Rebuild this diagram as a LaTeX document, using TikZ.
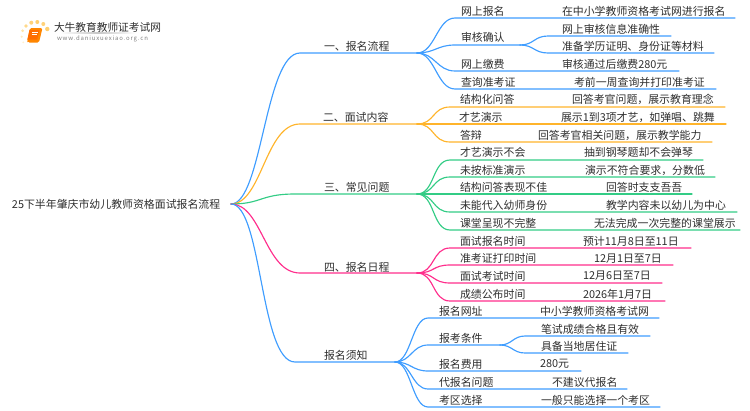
\documentclass[tikz,border=0pt]{standalone}
\usepackage{fontspec}
\usetikzlibrary{calc}
\setmainfont{Noto Sans CJK SC}
\definecolor{cblue}{HTML}{3F9DFF}
\definecolor{corange}{HTML}{FFB42B}
\definecolor{cgreen}{HTML}{33CC85}
\definecolor{cpink}{HTML}{FF2E8C}
\definecolor{ctext}{HTML}{2E2E2E}
\tikzset{
  txt/.style={inner sep=0pt,outer sep=0pt,anchor=west,text=ctext,font=\fontsize{10.9}{12}\selectfont},
  link/.style={line width=1.15pt,line cap=round}
}
\newcommand{\branch}[5]{% name colour parent kneex y ; line runs on to (#1j)
  \coordinate (#1) at (#4,#5);
  \draw[link,#2] (#3) .. controls +(31,0) and ($(#1)+(-35,0)$) .. (#1) -- (#1j);
}
\newcommand{\twig}[7]{% name colour parent kneex endx y dx
  \coordinate (#1k) at (#4,#6);
  \coordinate (#1e) at (#5,#6);
  \draw[link,#2] (#3) .. controls +(#7,0) and ($(#1k)+(-#7,0)$) .. (#1k) -- (#1e);
}
\begin{document}
\begin{tikzpicture}[x=1pt,y=-1pt]
\useasboundingbox (0,0) rectangle (750,410);
% logo
\foreach \n/\a/\b/\r/\c in {a/26/26/1.8/FFD98A,b/31.3/22.7/2/FFD27A,c/37.3/22/2/FFCF70,d/43.3/24/2/FFD27A,e/47.3/29/2.2/FFCF70,f/22.7/30.7/1.5/FFE4A8,g/21.7/36.7/1.2/FFEBC0,h/23.3/42.3/1/FFF0D0}{
  \definecolor{dc\n}{HTML}{\c}
  \fill[dc\n] (\a,\b) circle (\r);
}
\fill[rounded corners=1.5pt,fill=orange!95!yellow] (30,28) -- (42.5,28) -- (39,42.5) -- (28,42.5) -- (27,41) -- cycle;
\fill[fill=orange!85!red] (29.5,30) -- (39.5,30) -- (37.2,39.5) -- (27.5,39.5) -- cycle;
\draw[white,line width=.5pt] (32,32) -- (37.5,32) (31.5,34) -- (37,34);
\node[txt,font=\fontsize{10.7}{12}\selectfont] (logoa) at (54,27) {大牛教育教师证考试网};
\shade[left color=white,right color=white,middle color=black!22] (60,32.7) rectangle (136,33.7);
\node[txt,text=black!50,font=\fontsize{6}{7}\selectfont] (logob) at (57,39) {\addfontfeatures{LetterSpace=14}www.daniuxuexiao.org.cn};

% root
\node[txt] (root) at (12,204.5) {25下半年肇庆市幼儿教师资格面试报名流程};
\coordinate (r) at (231,204);

% junctions
\coordinate (b1j) at (417,53);
\coordinate (b2j) at (417,124);
\coordinate (b3j) at (417,194);
\coordinate (b4j) at (417,273);
\coordinate (b5j) at (395,362);

% branches
\branch{b1}{cblue}{r}{300}{53}
\branch{b2}{corange}{r}{300}{124}
\branch{b3}{cgreen}{r}{295}{194}
\branch{b4}{cpink}{r}{300}{273}
\branch{b5}{cblue}{r}{295}{362}
\node[txt] (t1) at (324,46) {一、报名流程};
\node[txt] (t2) at (323,117) {二、面试内容};
\node[txt] (t3) at (324,187) {三、常见问题};
\node[txt] (t4) at (324,267) {四、报名日程};
\node[txt] (t5) at (324,355) {报名须知};

% branch 1
\twig{a1}{cblue}{b1j}{455}{735}{18}{18}
\twig{a2}{cblue}{b1j}{455}{520}{45}{18}
\twig{a3}{cblue}{b1j}{455}{679}{71}{18}
\twig{a4}{cblue}{b1j}{455}{716}{89}{18}
\coordinate (a2j) at (520,45);
\twig{a2x}{cblue}{a2j}{548}{671}{36}{14}
\twig{a2y}{cblue}{a2j}{548}{714}{53}{14}
\node[txt] at (461,11) {网上报名};
\node[txt] at (461,37.5) {审核确认};
\node[txt] at (461,64) {网上缴费};
\node[txt] at (461,82) {查询准考证};
\node[txt] at (562,11) {在中小学教师资格考试网进行报名};
\node[txt] at (562,29) {网上审核信息准确性};
\node[txt] at (562,46.5) {准备学历证明、身份证等材料};
\node[txt] at (562,64) {审核通过后缴费280元};
\node[txt] at (574,82) {考前一周查询并打印准考证};

% branch 2
\twig{c1}{corange}{b2j}{450}{725}{107}{18}
\twig{c2}{corange}{b2j}{450}{726}{124}{18}
\twig{c3}{corange}{b2j}{450}{712}{142}{18}
\node[txt] at (460,99.5) {结构化问答};
\node[txt] at (459,117) {才艺演示};
\node[txt] at (460,135) {答辩};
\node[txt] at (572,99.5) {回答考官问题，展示教育理念};
\node[txt] at (561,117) {展示1到3项才艺，如弹唱、跳舞};
\node[txt] at (538,135) {回答考官相关问题，展示教学能力};

% branch 3
\twig{d1}{cgreen}{b3j}{450}{703}{160}{18}
\twig{d2}{cgreen}{b3j}{450}{715}{177}{18}
\twig{d3}{cgreen}{b3j}{450}{692}{194}{18}
\twig{d4}{cgreen}{b3j}{450}{737}{212}{18}
\twig{d5}{cgreen}{b3j}{450}{740}{230}{18}
\node[txt] at (460,152) {才艺演示不会};
\node[txt] at (460,170) {未按标准演示};
\node[txt] at (460,187) {结构问答表现不佳};
\node[txt] at (460,205) {未能代入幼师身份};
\node[txt] at (460,223) {课堂呈现不完整};
\node[txt] at (584,152) {抽到钢琴题却不会弹琴};
\node[txt] at (585,170) {演示不符合要求，分数低};
\node[txt] at (606,187) {回答时支支吾吾};
\node[txt] at (606,205) {教学内容未以幼儿为中心};
\node[txt] at (594,223) {无法完成一次完整的课堂展示};

% branch 4
\twig{e1}{cpink}{b4j}{450}{691}{248}{18}
\twig{e2}{cpink}{b4j}{450}{673}{265}{18}
\twig{e3}{cpink}{b4j}{450}{662}{283}{18}
\twig{e4}{cpink}{b4j}{450}{665}{301}{18}
\node[txt] at (460,241) {面试报名时间};
\node[txt] at (460,258.5) {准考证打印时间};
\node[txt] at (460,276) {面试考试时间};
\node[txt] at (460,294) {成绩公布时间};
\node[txt] at (583,241) {预计11月8日至11日};
\node[txt] at (594,258.5) {12月1日至7日};
\node[txt] at (583,276) {12月6日至7日};
\node[txt] at (583,294) {2026年1月7日};

% branch 5
\twig{f1}{cblue}{b5j}{428}{659}{318}{16}
\twig{f2}{cblue}{b5j}{428}{500}{345}{16}
\twig{f3}{cblue}{b5j}{428}{581}{371}{16}
\twig{f4}{cblue}{b5j}{428}{627}{389}{16}
\twig{f5}{cblue}{b5j}{428}{660}{407}{16}
\coordinate (f2j) at (500,345);
\twig{f2x}{cblue}{f2j}{525}{650}{336}{12}
\twig{f2y}{cblue}{f2j}{525}{628}{353}{12}
\node[txt] at (439,311) {报名网址};
\node[txt] at (439,338) {报考条件};
\node[txt] at (439,364) {报名费用};
\node[txt] at (439,382) {代报名问题};
\node[txt] at (439,400) {考区选择};
\node[txt] at (540,311) {中小学教师资格考试网};
\node[txt] at (541,329) {笔试成绩合格且有效};
\node[txt] at (541,346.5) {具备当地居住证};
\node[txt] at (540,364) {280元};
\node[txt] at (552,382) {不建议代报名};
\node[txt] at (541,400) {一般只能选择一个考区};
\end{tikzpicture}
\end{document}
